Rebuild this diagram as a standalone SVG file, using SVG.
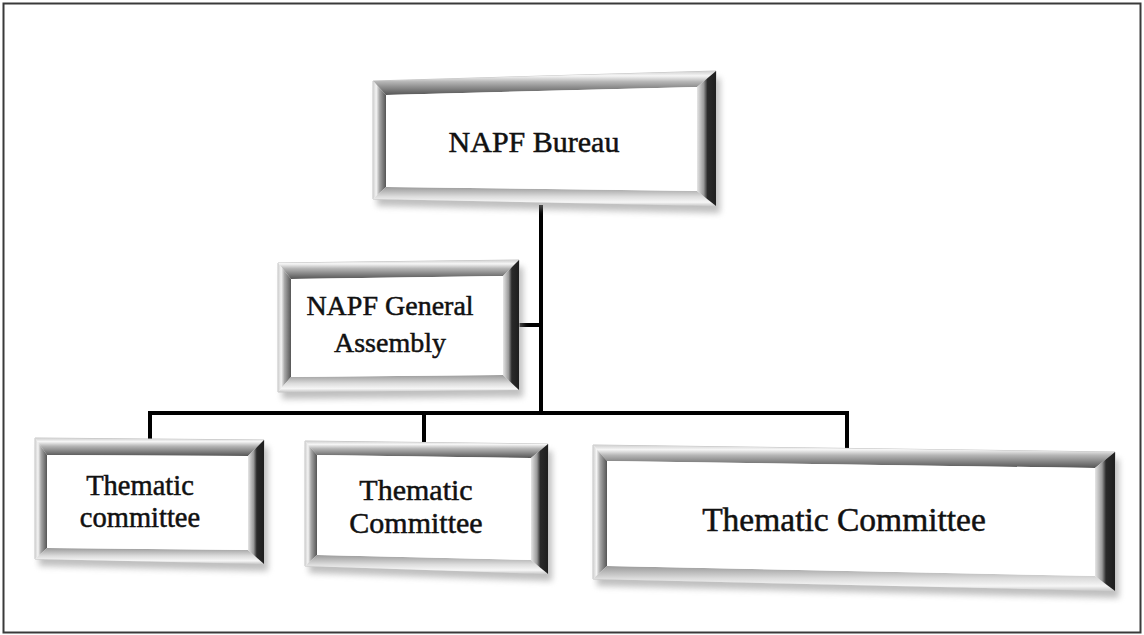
<svg xmlns="http://www.w3.org/2000/svg" width="1144" height="635" viewBox="0 0 1144 635">
<style>
.frame{fill:#fafafa;stroke:#c4c4c4;stroke-width:1}
.shadow{fill:#8a8a8a;opacity:0.55;filter:url(#blur)}
.top{fill:url(#gTop)}
.left{fill:url(#gLeft)}
.right{fill:url(#gRight)}
.bottom{fill:url(#gBottom)}
.face{fill:#ffffff}
.lbl{font-family:"Liberation Serif","DejaVu Serif",serif;font-size:29px;fill:#111;stroke:#111;stroke-width:0.5;text-anchor:middle}
.conn{stroke:#000;stroke-width:4;fill:none;stroke-linecap:square;stroke-linejoin:miter}
</style>
<defs>
<filter id="blur" x="-10%" y="-10%" width="120%" height="130%"><feGaussianBlur stdDeviation="3"/></filter>
<linearGradient id="gTop" x1="0" y1="0" x2="0" y2="1">
<stop offset="0" stop-color="#cfcfcf"/><stop offset="0.2" stop-color="#f6f6f6"/><stop offset="0.45" stop-color="#b5b5b5"/><stop offset="1" stop-color="#555"/>
</linearGradient>
<linearGradient id="gLeft" x1="0" y1="0" x2="1" y2="0">
<stop offset="0" stop-color="#cfcfcf"/><stop offset="0.25" stop-color="#f4f4f4"/><stop offset="0.5" stop-color="#a8a8a8"/><stop offset="1" stop-color="#555"/>
</linearGradient>
<linearGradient id="gRight" x1="0" y1="0" x2="1" y2="0">
<stop offset="0" stop-color="#e6e6e6"/><stop offset="0.35" stop-color="#9a9a9a"/><stop offset="0.55" stop-color="#2a2a2a"/><stop offset="1" stop-color="#1e1e1e"/>
</linearGradient>
<linearGradient id="gBottom" x1="0" y1="0" x2="0" y2="1">
<stop offset="0" stop-color="#9a9a9a"/><stop offset="0.5" stop-color="#dcdcdc"/><stop offset="0.8" stop-color="#f6f6f6"/><stop offset="1" stop-color="#c8c8c8"/>
</linearGradient>
</defs>
<rect x="0" y="0" width="1144" height="635" fill="#fff"/>
<rect x="3.5" y="3.5" width="1137" height="629" fill="none" stroke="#3a3a3a" stroke-width="2"/>

<g id="connectors">
<polyline class="conn" points="541,207 541,413"/>
<polyline class="conn" points="519,325 541,325"/>
<polyline class="conn" points="150,438 150,413 847,413 847,449"/>
<polyline class="conn" points="424,413 424,443"/>
</g>

<g id="napf-bureau">
<polygon class="shadow" points="377,88 720,78 720,213 377,206"/>
<polygon class="frame" points="373,81 716,71 716,206 373,199"/>
<polygon class="top" points="373,81 716,71 697,87 386,95"/>
<polygon class="left" points="373,81 386,95 386,187 373,199"/>
<polygon class="bottom" points="386,187 697,191 716,206 373,199"/>
<polygon class="right" points="697,87 716,71 716,206 697,191"/>
<polygon class="face" points="386,95 697,87 697,191 386,187"/>
<text class="lbl" x="534" y="152" style="font-size:30px">NAPF Bureau</text>
</g>

<g id="napf-general-assembly">
<polygon class="shadow" points="282,270 523,267 523,397 282,399"/>
<polygon class="frame" points="278,263 519,260 519,390 278,392"/>
<polygon class="top" points="278,263 519,260 503,276 291,279"/>
<polygon class="left" points="278,263 291,279 291,377 278,392"/>
<polygon class="bottom" points="291,377 503,375 519,390 278,392"/>
<polygon class="right" points="503,276 519,260 519,390 503,375"/>
<polygon class="face" points="291,279 503,276 503,375 291,377"/>
<text class="lbl" x="390" y="315" style="font-size:28px">NAPF General</text>
<text class="lbl" x="390" y="352" style="font-size:28px">Assembly</text>
</g>

<g id="thematic-committee-1">
<polygon class="shadow" points="39,445 268,447 268,571 39,566"/>
<polygon class="frame" points="35,438 264,440 264,564 35,559"/>
<polygon class="top" points="35,438 264,440 248,456 47,455"/>
<polygon class="left" points="35,438 47,455 47,548 35,559"/>
<polygon class="bottom" points="47,548 248,550 264,564 35,559"/>
<polygon class="right" points="248,456 264,440 264,564 248,550"/>
<polygon class="face" points="47,455 248,456 248,550 47,548"/>
<text class="lbl" x="140" y="495" style="font-size:28.5px">Thematic</text>
<text class="lbl" x="140" y="527" style="font-size:28.5px">committee</text>
</g>

<g id="thematic-committee-2">
<polygon class="shadow" points="309,448 552,451 552,581 309,573"/>
<polygon class="frame" points="305,441 548,444 548,574 305,566"/>
<polygon class="top" points="305,441 548,444 531,458 317,455"/>
<polygon class="left" points="305,441 317,455 317,555 305,566"/>
<polygon class="bottom" points="317,555 531,560 548,574 305,566"/>
<polygon class="right" points="531,458 548,444 548,574 531,560"/>
<polygon class="face" points="317,455 531,458 531,560 317,555"/>
<text class="lbl" x="416" y="500" style="font-size:30px">Thematic</text>
<text class="lbl" x="416" y="533" style="font-size:30px">Committee</text>
</g>

<g id="thematic-committee-3">
<polygon class="shadow" points="597,452 1119,459 1119,598 597,586"/>
<polygon class="frame" points="593,445 1115,452 1115,591 593,579"/>
<polygon class="top" points="593,445 1115,452 1095,468 607,461"/>
<polygon class="left" points="593,445 607,461 607,566 593,579"/>
<polygon class="bottom" points="607,566 1095,576 1115,591 593,579"/>
<polygon class="right" points="1095,468 1115,452 1115,591 1095,576"/>
<polygon class="face" points="607,461 1095,468 1095,576 607,566"/>
<text class="lbl" x="844" y="531" style="font-size:33.5px">Thematic Committee</text>
</g>
</svg>
